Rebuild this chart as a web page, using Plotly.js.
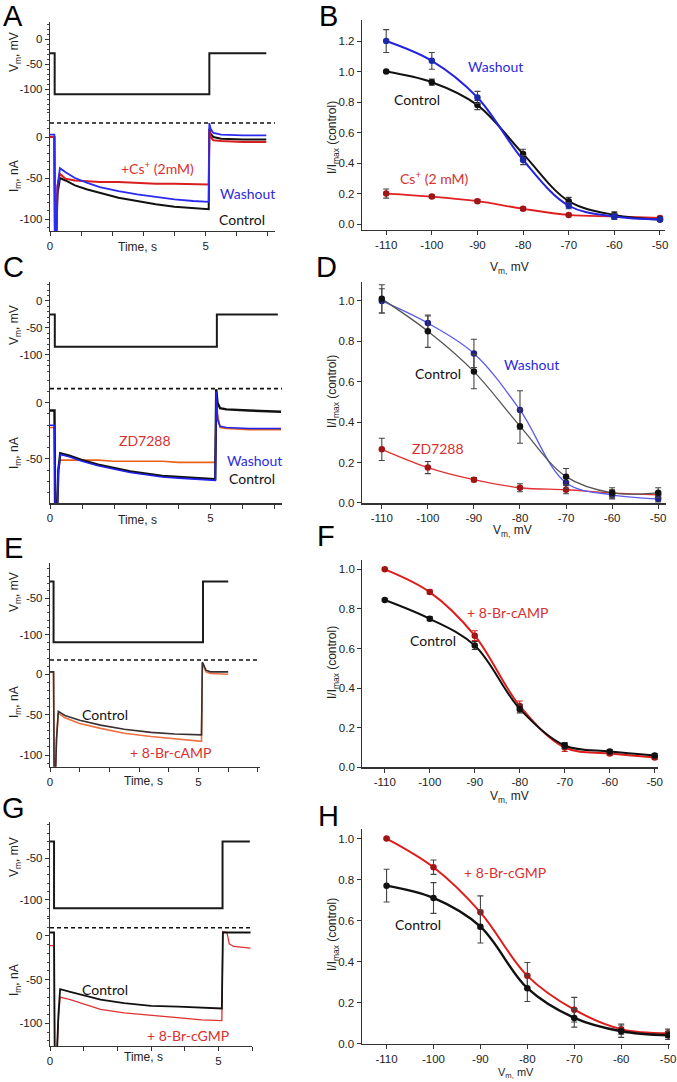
<!DOCTYPE html>
<html><head><meta charset="utf-8">
<script src="https://cdn.plot.ly/plotly-3.0.1.min.js"></script>
<style>html,body{margin:0;padding:0;background:#fff}#chart{width:677px;height:1082px}</style>
</head><body><div id="chart"></div>
<script>
// ---------------- DATA ----------------
const vm = [-110, -100, -90, -80, -70, -60, -50];
const vmTickText = ['-110', '-100', '-90', '-80', '-70', '-60', '-50'];
const timeTicks = [0, 5];
const timeTickText = ['0', '5'];
const timeMinor = [1, 2, 3, 4, 6, 7];
const vTicks = [0, -50, -100];
const vTickText = ['0', '-50', '-100'];
const iTicks = [0, -50, -100];
const iTickText = ['0', '-50', '-100'];

// Panel A: voltage protocol + currents
const A_vt = [0, 0.15, 5.12, 6.95];
const A_vv = [-28, -110, -28, -28];
const A_t = [0, 0.14, 0.16, 0.2, 0.24, 0.32, 0.5, 0.8, 1.2, 1.6, 2.2, 2.8, 3.4, 4.0, 4.6, 5.1, 5.12, 5.16, 5.25, 5.5, 6.2, 6.95];
const A_ctrl = [0, 0, -130, -130, -70, -50, -53, -59, -64, -68, -74, -78, -82, -85, -87, -88, 10, 4, 0, -2, -3, -3];
const A_wash = [3, 3, -130, -130, -60, -38, -43, -50, -56, -61, -66, -70, -73, -76, -78, -79, 17, 10, 5, 3, 2, 2];
const A_cs = [0, 0, -130, -130, -60, -45, -51, -53, -54, -55, -55, -56, -57, -57, -58, -58, 8, 0, -4, -5, -6, -6];
const A_dash = [17];

// Panel B: I/Imax
const B_ctrl = [1.0, 0.93, 0.78, 0.46, 0.15, 0.06, 0.03];
const B_ctrlErr = [0.005, 0.02, 0.03, 0.03, 0.025, 0.02, 0.01];
const B_wash = [1.2, 1.07, 0.83, 0.42, 0.12, 0.05, 0.03];
const B_washErr = [0.075, 0.055, 0.04, 0.03, 0.02, 0.02, 0.01];
const B_cs = [0.2, 0.18, 0.15, 0.1, 0.06, 0.05, 0.04];
const B_csErr = [0.03, 0.01, 0.01, 0.01, 0.005, 0.005, 0.01];

// Panel C
const C_vt = [0, 0.15, 5.2, 7.1];
const C_vv = [-25, -85, -25, -25];
const C_t = [0, 0.14, 0.16, 0.22, 0.26, 0.32, 0.6, 1.0, 1.5, 2.0, 2.5, 3.0, 3.5, 4.0, 4.5, 5.15, 5.18, 5.22, 5.3, 5.5, 6.2, 7.2];
const C_ctrl = [-7, -7, -100, -100, -60, -45, -47, -51, -55, -58, -61, -63, -65, -66, -67, -68, 12, 0, -5, -6, -7, -8];
const C_wash = [-20, -20, -100, -100, -60, -46, -48, -52, -56, -59, -62, -64, -66, -67, -68, -69, 10, -15, -21, -22, -23, -23];
const C_zd = [-22, -22, -100, -100, -60, -51, -51, -51, -51, -52, -52, -52, -52, -53, -53, -53, 12, -10, -22, -23, -24, -24];
const C_dash = [12.5];

// Panel D
const D_ctrl = [1.01, 0.85, 0.65, 0.38, 0.13, 0.05, 0.05];
const D_ctrlErr = [0.07, 0.08, 0.085, 0.085, 0.04, 0.025, 0.025];
const D_wash = [1.0, 0.89, 0.74, 0.46, 0.10, 0.04, 0.02];
const D_washErr = [0.06, 0.035, 0.07, 0.095, 0.03, 0.02, 0.015];
const D_zd = [0.265, 0.175, 0.115, 0.075, 0.065, 0.05, 0.04];
const D_zdErr = [0.055, 0.03, 0.01, 0.02, 0.02, 0.015, 0.015];

// Panel E
const E_vt = [0, 0.12, 5.15, 6.0];
const E_vv = [-27, -110, -27, -27];
const E_t = [0, 0.12, 0.14, 0.18, 0.22, 0.28, 0.5, 1.0, 1.7, 2.5, 3.4, 4.2, 5.1, 5.13, 5.17, 5.25, 5.4, 6.0];
const E_ctrl = [3, 3, -130, -130, -80, -46, -51, -57, -63, -68, -72, -74, -75, 15, 12, 5, 3, 3];
const E_camp = [3, 3, -130, -130, -80, -48, -54, -61, -67, -73, -77, -80, -83, 14, 10, 3, 1, 0];
const E_dash = [17.7];

// Panel F
const F_ctrl = [0.845, 0.75, 0.615, 0.295, 0.11, 0.08, 0.06];
const F_ctrlErr = [0.005, 0.01, 0.02, 0.02, 0.015, 0.01, 0.01];
const F_camp = [1.0, 0.885, 0.665, 0.31, 0.10, 0.07, 0.05];
const F_campErr = [0.005, 0.01, 0.025, 0.025, 0.02, 0.01, 0.01];

// Panel G
const G_vt = [0, 0.12, 5.12, 5.93];
const G_vv = [-30, -110, -30, -30];
const G_t = [0, 0.12, 0.14, 0.2, 0.25, 0.3, 0.6, 1.0, 1.5, 2.2, 3.0, 3.8, 4.5, 5.1, 5.13, 5.25, 5.32, 5.45, 5.95];
const G_ctrl = [4, 4, -140, -140, -90, -61, -64, -68, -73, -77, -80, -81, -82, -83, 4, 4, 4, 4, 4];
const G_cgmp = [-11, -11, -140, -140, -95, -70, -73, -78, -84, -88, -91, -94, -96, -97, 5, 4, -9, -12, -14];
const G_dash = [9.5];

// Panel H
const H_ctrl = [0.77, 0.71, 0.57, 0.27, 0.125, 0.06, 0.04];
const H_ctrlErr = [0.08, 0.075, 0.08, 0.065, 0.045, 0.03, 0.02];
const H_cgmp = [1.0, 0.86, 0.64, 0.33, 0.165, 0.07, 0.05];
const H_cgmpErr = [0.005, 0.035, 0.08, 0.065, 0.06, 0.025, 0.02];

// ---------------- LAYOUT HELPERS ----------------
const W = 677, H = 1082;
const fx = p => p / W, fy = p => 1 - p / H;
const TF = {family: '"Liberation Sans Narrow","Liberation Sans",Arial,sans-serif', size: 11.5, color: '#222'};
const LBL = 'Lato, "Open Sans", sans-serif';
const RED = '#d93030', BLUE = '#2b2be0';

function base() {
  return {showline: true, linecolor: '#333', linewidth: 1.2, ticks: 'outside', ticklen: 4, tickwidth: 1,
    tickcolor: '#333', showgrid: false, zeroline: false, tickfont: TF, fixedrange: true};
}
function minorVals(lo, hi, step) { const a = []; for (let v = Math.ceil(lo / step) * step; v <= hi; v += step) a.push(v); return a; }
function yLeft(top, bot, range, anchor, vals, txt) {
  return Object.assign(base(), {domain: [fy(bot), fy(top)], range, anchor, tickmode: 'array', tickvals: vals, ticktext: txt,
    minor: {tickvals: minorVals(range[0], range[1], 10), ticks: 'outside', ticklen: 2, tickcolor: '#444'}});
}
function yOnly(top, bot, range, anchor) {
  return Object.assign(base(), {domain: [fy(bot), fy(top)], range, anchor, tick0: 0, dtick: 0.2, tickformat: '.1f'});
}
function xTime(left, right, range, anchor) {
  return Object.assign(base(), {domain: [fx(left), fx(right)], range, anchor, tickmode: 'array', tickvals: timeTicks, ticktext: timeTickText,
    minor: {tickvals: timeMinor, ticks: 'outside', ticklen: 4, tickcolor: '#333'}});
}
function xVm(left, right, range, anchor) {
  return Object.assign(base(), {domain: [fx(left), fx(right)], range, anchor, tickmode: 'array', tickvals: vm, ticktext: vmTickText,
    ticklabelstandoff: 0});
}

const layout = {
  width: W, height: H, margin: {l: 0, r: 0, t: 0, b: 0}, showlegend: false,
  paper_bgcolor: '#fff', plot_bgcolor: 'rgba(0,0,0,0)', font: TF,
  // A
  xaxis: xTime(50, 275, [0, 7.23], 'y2'),
  yaxis: yLeft(22, 112, [-145.4, 34.6], 'x', vTicks, vTickText),
  yaxis2: yLeft(112, 231, [-114.6, 30.5], 'x', iTicks, iTickText),
  // B
  xaxis2: xVm(362, 665, [-115.3, -48.9], 'y3'),
  yaxis3: yOnly(20, 230, [-0.039, 1.338], 'x2'),
  // C
  xaxis3: xTime(50, 282, [0, 7.23], 'y5'),
  yaxis4: yLeft(281.7, 376, [-139, 35.7], 'x3', vTicks, vTickText),
  yaxis5: yLeft(376, 503.3, [-89.4, 23.7], 'x3', iTicks, iTickText),
  // D
  xaxis4: xVm(362, 666, [-114.3, -48.3], 'y6'),
  yaxis6: yOnly(281.7, 503.3, [-0.002, 1.095], 'x4'),
  // E
  xaxis5: xTime(50, 260, [0, 7.07], 'y8'),
  yaxis7: yLeft(563.3, 652, [-123.3, -2.3], 'x5', vTicks, vTickText),
  yaxis8: yLeft(652, 766.7, [-114.5, 27.6], 'x5', iTicks, iTickText),
  // F
  xaxis6: xVm(362.3, 658.3, [-115.0, -49.2], 'y9'),
  yaxis9: yOnly(560, 767.3, [0, 1.047], 'x6'),
  // G
  xaxis7: xTime(50, 252.2, [0, 6.0], 'y11'),
  yaxis10: yLeft(821.7, 918, [-121.7, -6.1], 'x7', vTicks, vTickText),
  yaxis11: yLeft(918, 1046, [-126, 20.6], 'x7', iTicks, iTickText),
  // H
  xaxis8: xVm(361.7, 670, [-115.3, -49.6], 'y12'),
  yaxis12: yOnly(829.3, 1043.5, [0, 1.045], 'x8'),
  shapes: [],
  annotations: []
};

function dashLine(xa, ya, level) {
  layout.shapes.push({type: 'line', xref: xa + ' domain', x0: 0, x1: 1, yref: ya, y0: level[0], y1: level[0],
    line: {color: '#111', width: 1.6, dash: '4px,3px'}});
}
dashLine('x', 'y2', A_dash);
dashLine('x3', 'y5', C_dash);
dashLine('x5', 'y8', E_dash);
dashLine('x7', 'y11', G_dash);

function ann(text, px, py, opts) {
  layout.annotations.push(Object.assign({text, x: fx(px), y: fy(py), xref: 'paper', yref: 'paper', showarrow: false,
    xanchor: 'center', yanchor: 'middle', font: {family: LBL, size: 14, color: '#111'}}, opts || {}));
}
// panel letters
const LF = {family: '"Liberation Sans",Arial,sans-serif', size: 29, color: '#000'};
[['A', 13, 16], ['C', 13, 267], ['E', 13, 548], ['G', 13, 808],
 ['B', 328, 16], ['D', 326, 267], ['F', 326, 536], ['H', 328, 816]].forEach(l => ann(l[0], l[1], l[2], {font: LF}));

// axis titles
const AT = {family: '"Liberation Sans Narrow","Liberation Sans",Arial,sans-serif', size: 12, color: '#222'};
function yTitle(t, px, py) { ann(t, px, py, {textangle: -90, font: AT}); }
function xTitle(t, px, py, sz) { ann(t, px, py, {font: Object.assign({}, AT, sz ? {size: sz} : {})}); }
yTitle('V<sub>m</sub>, mV', 15, 52); yTitle('I<sub>m</sub>, nA', 15, 176);
yTitle('V<sub>m</sub>, mV', 15, 325); yTitle('I<sub>m</sub>, nA', 15, 453);
yTitle('V<sub>m</sub>, mV', 15, 592); yTitle('I<sub>m</sub>, nA', 15, 702);
yTitle('V<sub>m</sub>, mV', 15, 857); yTitle('I<sub>m</sub>, nA', 15, 980);
xTitle('Time, s', 137, 247); xTitle('Time, s', 137, 520); xTitle('Time, s', 143, 781); xTitle('Time, s', 143, 1057);
[138, 392, 663, 935].forEach(cy => yTitle('I/I<sub>max</sub> (control)', 333, cy));
xTitle('V<sub>m,</sub> mV', 510, 268); xTitle('V<sub>m,</sub> mV', 512, 531);
xTitle('V<sub>m,</sub> mV', 510, 797); xTitle('V<sub>m,</sub> mV', 516, 1073, 11);

// in-plot labels
ann('+Cs<sup>+</sup> (2mM)', 157, 167, {font: {family: LBL, size: 14, color: RED}});
ann('Washout', 247, 193, {font: {family: LBL, size: 14, color: BLUE}});
ann('Control', 242, 219);
ann('Washout', 495, 66, {font: {family: LBL, size: 14, color: BLUE}});
ann('Control', 417, 99);
ann('Cs<sup>+</sup> (2 mM)', 434, 178, {font: {family: LBL, size: 14, color: RED}});
ann('ZD7288', 145, 441, {font: {family: LBL, size: 14, color: RED}});
ann('Washout', 254, 460, {font: {family: LBL, size: 14, color: BLUE}});
ann('Control', 252, 479);
ann('Washout', 531, 364, {font: {family: LBL, size: 14, color: BLUE}});
ann('Control', 438, 373);
ann('ZD7288', 438, 448, {font: {family: LBL, size: 14, color: RED}});
ann('Control', 105, 714);
ann('+ 8-Br-cAMP', 171, 752, {font: {family: LBL, size: 14, color: RED}});
ann('+ 8-Br-cAMP', 508, 612, {font: {family: LBL, size: 14, color: RED}});
ann('Control', 433, 640);
ann('Control', 105, 989);
ann('+ 8-Br-cGMP', 188, 1035, {font: {family: LBL, size: 14, color: RED}});
ann('+ 8-Br-cGMP', 505, 872, {font: {family: LBL, size: 14, color: RED}});
ann('Control', 418, 924);

// ---------------- TRACES ----------------
const data = [];
function prot(xa, ya, t, v) {
  data.push({type: 'scatter', mode: 'lines', x: t, y: v, xaxis: xa, yaxis: ya, line: {color: '#1a1a1a', width: 2, shape: 'hv'}, hoverinfo: 'skip'});
}
function cur(xa, ya, t, i, color, width) {
  data.push({type: 'scatter', mode: 'lines', x: t, y: i, xaxis: xa, yaxis: ya, line: {color, width: width || 1.8}, hoverinfo: 'skip'});
}
function iv(xa, ya, y, err, lineColor, markColor, lw, errColor) {
  data.push({type: 'scatter', mode: 'lines+markers', x: vm, y, xaxis: xa, yaxis: ya,
    line: {color: lineColor, width: lw, shape: 'spline', smoothing: 1},
    marker: {color: markColor, size: 6.5},
    error_y: {type: 'data', array: err, visible: true, color: errColor || '#444', thickness: 1.1, width: 3},
    hoverinfo: 'skip'});
}
// A
prot('x', 'y', A_vt, A_vv);
cur('x', 'y2', A_t, A_ctrl, '#111', 2);
cur('x', 'y2', A_t, A_cs, '#d81e1e', 2);
cur('x', 'y2', A_t, A_wash, '#2a2af0', 1.8);
// B
iv('x2', 'y3', B_cs, B_csErr, '#e02020', '#a01515', 1.8);
iv('x2', 'y3', B_ctrl, B_ctrlErr, '#111', '#111', 2);
iv('x2', 'y3', B_wash, B_washErr, '#2424e0', '#1c2aa8', 2);
// C
prot('x3', 'y4', C_vt, C_vv);
cur('x3', 'y5', C_t, C_zd, '#e8621c', 1.6);
cur('x3', 'y5', C_t, C_ctrl, '#111', 2.4);
cur('x3', 'y5', C_t, C_wash, '#2222ee', 1.6);
// D
iv('x4', 'y6', D_zd, D_zdErr, '#e03030', '#a31515', 1.3);
iv('x4', 'y6', D_wash, D_washErr, '#5b5bf0', '#1c1c8a', 1.3);
iv('x4', 'y6', D_ctrl, D_ctrlErr, '#555', '#111', 1.3);
// E
prot('x5', 'y7', E_vt, E_vv);
cur('x5', 'y8', E_t, E_camp, '#ee7040', 1.6);
cur('x5', 'y8', E_t, E_ctrl, '#3a3030', 1.6);
// F
iv('x6', 'y9', F_camp, F_campErr, '#e01b1b', '#a31515', 2, '#d02020');
iv('x6', 'y9', F_ctrl, F_ctrlErr, '#111', '#111', 2, '#333');
// G
prot('x7', 'y10', G_vt, G_vv);
cur('x7', 'y11', G_t, G_cgmp, '#e03030', 1.3);
cur('x7', 'y11', G_t, G_ctrl, '#111', 1.8);
// H
iv('x8', 'y12', H_cgmp, H_cgmpErr, '#e01b1b', '#a31515', 2);
iv('x8', 'y12', H_ctrl, H_ctrlErr, '#111', '#111', 2.4);

Plotly.newPlot('chart', data, layout, {staticPlot: true, displayModeBar: false});
</script></body></html>
